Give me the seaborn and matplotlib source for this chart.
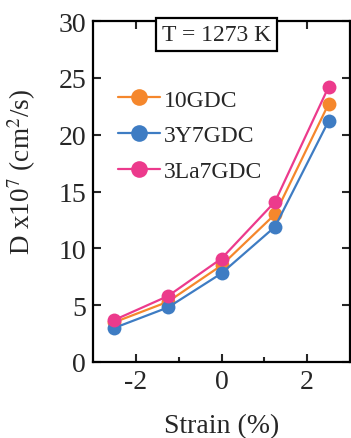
import matplotlib
matplotlib.use("Agg")
import matplotlib.pyplot as plt
import seaborn as sns
import pandas as pd

strain = [-2.5, -1.25, 0, 1.25, 2.5]
d_10gdc = [3.5, 5.3, 8.5, 13.0, 22.7]
d_3y7gdc = [3.0, 4.8, 7.8, 11.9, 21.2]
d_3la7gdc = [3.7, 5.8, 9.1, 14.1, 24.2]
series_names = ["10GDC", "3Y7GDC", "3La7GDC"]
colors = ["#F5872C", "#3E7CC3", "#EC3A8C"]

sns.set_theme(style="ticks")
plt.rcParams['font.family'] = ['Liberation Serif', 'DejaVu Serif']
plt.rcParams['mathtext.fontset'] = 'stix'

rows = []
for name, vals in zip(series_names, [d_10gdc, d_3y7gdc, d_3la7gdc]):
    for x, y in zip(strain, vals):
        rows.append({"Strain": x, "D": y, "Sample": name})
df = pd.DataFrame(rows)

fig = plt.figure(figsize=(3.51, 4.39), dpi=100)
ax = fig.add_axes([93/351, 1-363/439, (350-93)/351, (363-22)/439])

sns.lineplot(data=df, x="Strain", y="D", hue="Sample", hue_order=series_names,
             palette=colors, marker="o", markersize=10, markeredgewidth=0,
             linewidth=1.6, ax=ax)

ax.set_xlim(-3, 3)
ax.set_ylim(0, 30)
ax.set_xticks([-2, 0, 2])
ax.set_xticklabels(["-2", "0", "2"])
ax.set_xticks([-1, 1], minor=True)
ax.set_yticks([0, 5, 10, 15, 20, 25, 30])
ax.tick_params(axis='both', which='major', direction='in', length=6, width=1.5,
               labelsize=20, top=True, right=True, pad=5)
ax.tick_params(axis='both', which='minor', direction='in', length=3.5, width=1.5,
               top=True, right=True)
for s in ax.spines.values():
    s.set_linewidth(1.6)
    s.set_color("black")

ax.set_xlabel("Strain (%)", fontsize=20, labelpad=14)
ax.set_ylabel(r"D x10$^7$ (cm$^2$/s)", fontsize=19.5)
ax.yaxis.set_label_coords(-0.215, 0.56)

leg = ax.legend(loc="upper left", bbox_to_anchor=(0.098, 0.80), frameon=False,
                fontsize=17, handlelength=1.75, handletextpad=0.2,
                labelspacing=0.6, borderaxespad=0, borderpad=0)
for h in leg.legend_handles:
    h.set_markersize(12)

ax.text(0.48, 0.992, "T = 1273 K", transform=ax.transAxes, ha="center", va="top",
        fontsize=17,
        bbox=dict(boxstyle="square,pad=0.25", facecolor="white", edgecolor="black", linewidth=1.6))

fig.savefig("out.png", dpi=100)
